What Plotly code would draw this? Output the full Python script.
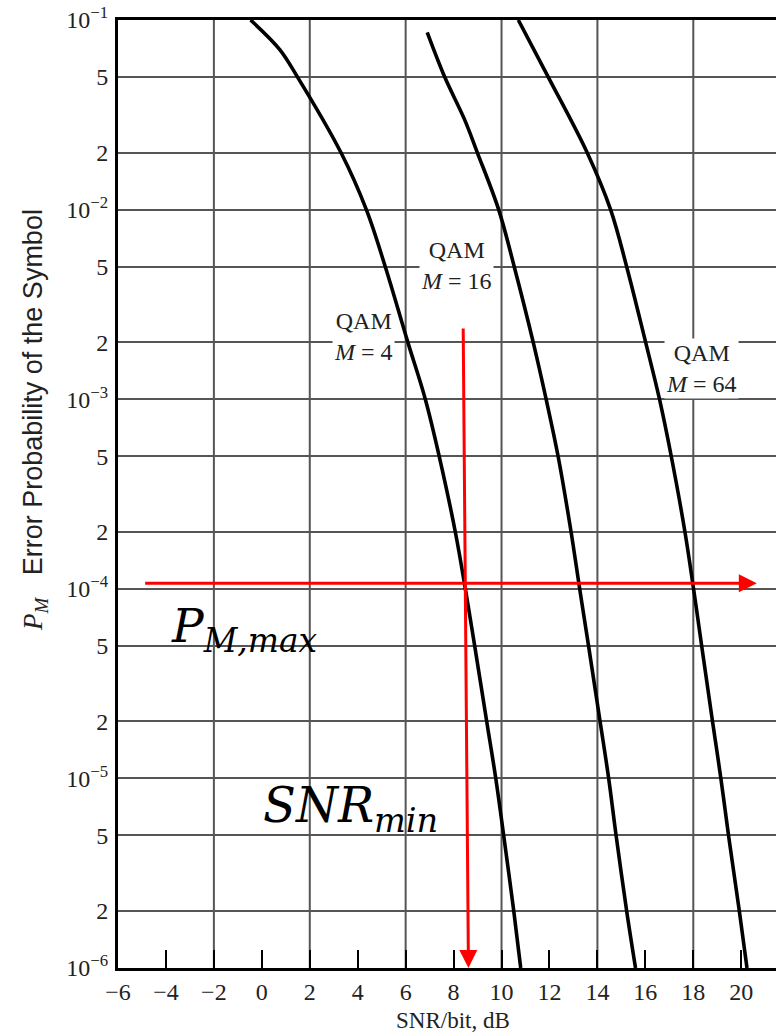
import math
import plotly.graph_objects as go

# ---------------- data ----------------
pm_m4 = [1e-1, 7e-2, 5e-2, 2e-2, 1e-2, 5e-3, 2e-3, 1e-3, 5e-4, 2e-4, 1e-4,
         5e-5, 2e-5, 1e-5, 5e-6, 2e-6, 1e-6]
snr_m4 = [-0.47, 0.74, 1.49, 3.30, 4.36, 5.15, 6.09, 6.82, 7.40, 8.07, 8.49,
          8.88, 9.38, 9.76, 10.09, 10.51, 10.80]

pm_m16 = [8.6e-2, 5e-2, 3e-2, 2e-2, 1e-2, 5e-3, 2e-3, 1e-3, 5e-4, 2e-4, 1e-4,
          5e-5, 2e-5, 1e-5, 5e-6, 2e-6, 1e-6]
snr_m16 = [6.90, 7.63, 8.45, 8.99, 9.88, 10.53, 11.32, 11.86, 12.36, 12.90, 13.26,
           13.63, 14.11, 14.47, 14.78, 15.22, 15.59]

pm_m64 = [1e-1, 5e-2, 2e-2, 1e-2, 5e-3, 2e-3, 1e-3, 5e-4, 2e-4, 1e-4,
          5e-5, 2e-5, 1e-5, 5e-6, 2e-6, 1e-6]
snr_m64 = [10.70, 11.95, 13.57, 14.55, 15.22, 16.01, 16.59, 17.08, 17.65, 18.01,
           18.35, 18.80, 19.15, 19.47, 19.92, 20.24]

curve_labels = ["QAM<br><i>M</i> = 4", "QAM<br><i>M</i> = 16", "QAM<br><i>M</i> = 64"]
label_snr = [4.25, 8.14, 18.35]
label_pm = [2.15e-3, 5.1e-3, 1.45e-3]

x_tick_vals = [-6, -4, -2, 0, 2, 4, 6, 8, 10, 12, 14, 16, 18, 20]
x_tick_text = ["\u22126", "\u22124", "\u22122", "0", "2", "4", "6", "8", "10", "12", "14", "16", "18", "20"]
x_grid_vals = [-2, 2, 6, 10, 14, 18]

y_tick_vals = [1e-1, 5e-2, 2e-2, 1e-2, 5e-3, 2e-3, 1e-3, 5e-4, 2e-4, 1e-4,
               5e-5, 2e-5, 1e-5, 5e-6, 2e-6, 1e-6]
y_tick_text = ["10<sup>\u22121</sup>", "5", "2", "10<sup>\u22122</sup>", "5", "2",
               "10<sup>\u22123</sup>", "5", "2", "10<sup>\u22124</sup>", "5", "2",
               "10<sup>\u22125</sup>", "5", "2", "10<sup>\u22126</sup>"]

pm_max = 1.07e-4
h_arrow_snr = [-4.93, 20.65]
v_arrow_snr = [8.40, 8.62]
v_arrow_pm = [2.4e-3, 1e-6]

X_RANGE = [-6, 21.45]
SERIF = "Liberation Serif"
TXT = "#222222"
GRID = "#555555"

fig = go.Figure()
for xs, ys in [(snr_m4, pm_m4), (snr_m16, pm_m16), (snr_m64, pm_m64)]:
    fig.add_trace(go.Scatter(x=xs, y=ys, mode="lines",
                             line=dict(color="black", width=3.6, shape="spline", smoothing=1.0),
                             showlegend=False, hoverinfo="skip"))

# vertical grid lines (every 4 dB)
for gx in x_grid_vals:
    fig.add_shape(type="line", xref="x", yref="paper", x0=gx, x1=gx, y0=0, y1=1,
                  line=dict(color=GRID, width=2), layer="below")

annotations = []
# curve labels
for t, sx, p in zip(curve_labels, label_snr, label_pm):
    annotations.append(dict(x=sx, y=math.log10(p), xref="x", yref="y", text=t,
                            showarrow=False, bgcolor="white", borderpad=1,
                            font=dict(family=SERIF, size=24, color=TXT)))

# red arrows
annotations.append(dict(x=h_arrow_snr[1], y=math.log10(pm_max), ax=h_arrow_snr[0], ay=math.log10(pm_max),
                        xref="x", yref="y", axref="x", ayref="y", text="", showarrow=True,
                        arrowhead=2, arrowsize=1.2, arrowwidth=3, arrowcolor="#ff0000", standoff=0))
annotations.append(dict(x=v_arrow_snr[1], y=math.log10(v_arrow_pm[1]), ax=v_arrow_snr[0], ay=math.log10(v_arrow_pm[0]),
                        xref="x", yref="y", axref="x", ayref="y", text="", showarrow=True,
                        arrowhead=2, arrowsize=1.2, arrowwidth=3, arrowcolor="#ff0000", standoff=0))

# big math labels
annotations.append(dict(x=-3.87, y=math.log10(pm_max) - 0.24, xref="x", yref="y", xanchor="left", yanchor="middle",
                        text="<i>P</i><sub><i>M,max</i></sub>", showarrow=False,
                        font=dict(family="DejaVu Serif", size=47, color="black")))
annotations.append(dict(x=-0.05, y=-5.16, xref="x", yref="y", xanchor="left", yanchor="middle",
                        text="<i>SNR</i><sub><i>min</i></sub>", showarrow=False,
                        font=dict(family="DejaVu Serif", size=48, color="black")))

# axis titles
annotations.append(dict(x=(35 - 118) / 658, y=(968 - 420) / 948, xref="paper", yref="paper",
                        xanchor="center", yanchor="middle",
                        text="<span style='font-family:Liberation Serif'><i>P<sub>M</sub></i></span>   Error Probability of the Symbol",
                        textangle=-90, showarrow=False,
                        font=dict(family="Liberation Sans", size=27, color=TXT)))
annotations.append(dict(x=(453 - 118) / 658, y=(968 - 1020) / 948, xref="paper", yref="paper",
                        xanchor="center", yanchor="middle",
                        text="SNR/bit, dB", showarrow=False,
                        font=dict(family=SERIF, size=23, color=TXT)))

fig.update_layout(
    width=776, height=1032,
    margin=dict(l=118, r=0, t=20, b=64, autoexpand=False),
    paper_bgcolor="white", plot_bgcolor="white",
    showlegend=False,
    annotations=annotations,
    xaxis=dict(range=X_RANGE, tickmode="array", tickvals=x_tick_vals, ticktext=x_tick_text,
               ticks="inside", ticklen=18, tickwidth=2, tickcolor="black",
               showgrid=False, zeroline=False, showline=True, linewidth=3, linecolor="black",
               mirror=True, ticklabelstandoff=0, automargin=False, ticklabeloverflow="allow",
               tickfont=dict(family=SERIF, size=24, color=TXT)),
    yaxis=dict(type="log", range=[-6, -1], tickmode="array", tickvals=y_tick_vals, ticktext=y_tick_text,
               ticks="", showgrid=True, gridcolor=GRID, gridwidth=2,
               zeroline=False, showline=True, linewidth=3, linecolor="black",
               ticklabelstandoff=2, automargin=False, ticklabeloverflow="allow",
               tickfont=dict(family=SERIF, size=24, color=TXT)),
)

# remove the browser's default 8px page margin so the figure fills the window exactly
fig.write_html("out.html", config={"displayModeBar": False},
               post_script="document.body.style.margin='0';")
